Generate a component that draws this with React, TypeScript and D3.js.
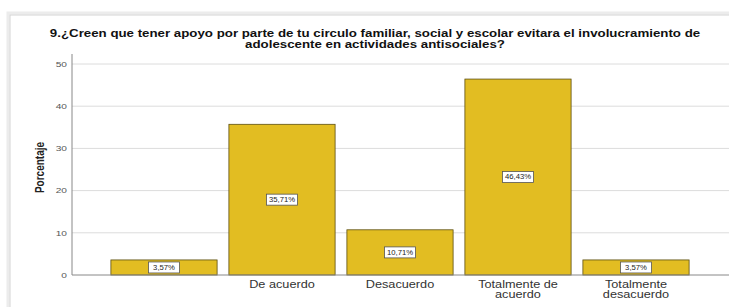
import { useEffect, useRef } from 'react'
import * as d3 from 'd3'

const categories = ['', 'De acuerdo', 'Desacuerdo', 'Totalmente de acuerdo', 'Totalmente desacuerdo']
const tickLines = [[''], ['De acuerdo'], ['Desacuerdo'], ['Totalmente de', 'acuerdo'], ['Totalmente', 'desacuerdo']]
const percentages = [3.57, 35.71, 10.71, 46.43, 3.57]
const yTicks = [0, 10, 20, 30, 40, 50]
const titleLines = [
  '9.¿Creen que tener apoyo por parte de tu circulo familiar, social y escolar evitara el involucramiento de',
  'adolescente en actividades antisociales?',
]

const W = 729
const H = 307
const font = '"Liberation Sans", Arial, sans-serif'
// the source picture is stretched horizontally
const SX = 1.27

export default function App() {
  const svgRef = useRef<SVGSVGElement>(null)

  useEffect(() => {
    if (!svgRef.current) return
    const svg = d3.select(svgRef.current)
    svg.selectAll('*').remove()

    const stretched = (x: number, y: number, sx = SX) =>
      svg.append('text').attr('transform', `translate(${x},${y}) scale(${sx},1)`)

    // frame with a soft shadow
    svg.append('rect')
      .attr('x', 8).attr('y', 13).attr('width', W).attr('height', H)
      .attr('fill', 'none').attr('stroke', '#ececec').attr('stroke-width', 3)
    svg.append('rect')
      .attr('x', 10).attr('y', 15).attr('width', W).attr('height', H)
      .attr('fill', '#fff').attr('stroke', '#d4d4d4').attr('stroke-width', 1)

    titleLines.forEach((t, i) => {
      stretched(375, 37 + i * 11, 1.33)
        .attr('text-anchor', 'middle')
        .style('font-family', font).style('font-size', '10px').style('font-weight', 'bold')
        .style('fill', '#111')
        .text(t)
    })

    const x0 = 72
    const x = d3.scaleBand<string>()
      .domain(categories)
      .range([105, 695])
      .paddingInner(0.1)
      .paddingOuter(0.05)

    const y = d3.scaleLinear().domain([0, 50]).range([275, 64])

    // gridlines
    svg.append('g')
      .selectAll('line')
      .data(yTicks.filter(d => d > 0))
      .join('line')
      .attr('x1', x0).attr('x2', W)
      .attr('y1', d => y(d)).attr('y2', d => y(d))
      .attr('stroke', '#dcdcdc').attr('stroke-width', 1)

    // tick labels
    yTicks.forEach(d => {
      stretched(67, y(d))
        .attr('dy', '0.35em')
        .attr('text-anchor', 'end')
        .style('font-family', font).style('font-size', '8px')
        .style('fill', '#555')
        .text(d)
    })

    svg.append('text')
      .attr('transform', `translate(44,${y(25) - 2}) rotate(-90) scale(1,${SX})`)
      .attr('text-anchor', 'middle')
      .style('font-family', font).style('font-size', '10px').style('font-weight', 'bold')
      .style('fill', '#222')
      .text('Porcentaje')

    // bars
    categories.forEach((c, i) => {
      const v = percentages[i]
      const bx = x(c) ?? 0
      svg.append('rect')
        .attr('x', bx).attr('y', y(v))
        .attr('width', x.bandwidth()).attr('height', y(0) - y(v))
        .attr('fill', '#E2BD22').attr('stroke', '#5c4f12').attr('stroke-width', 0.8)

      const label = v.toFixed(2).replace('.', ',') + '%'
      const cy = (y(v) + y(0)) / 2
      const cx = bx + x.bandwidth() / 2
      svg.append('rect')
        .attr('x', cx - 15.5).attr('y', cy - 5.5)
        .attr('width', 31).attr('height', 11)
        .attr('fill', '#fff').attr('stroke', '#555').attr('stroke-width', 0.8)
      stretched(cx, cy, 1.1)
        .attr('dy', '0.35em')
        .attr('text-anchor', 'middle')
        .style('font-family', font).style('font-size', '7px')
        .style('fill', '#222')
        .text(label)
    })

    // axes lines
    svg.append('line')
      .attr('x1', x0).attr('x2', x0).attr('y1', 54).attr('y2', y(0))
      .attr('stroke', '#888').attr('stroke-width', 1)
    svg.append('line')
      .attr('x1', x0).attr('x2', W).attr('y1', y(0)).attr('y2', y(0))
      .attr('stroke', '#888').attr('stroke-width', 1)

    // category labels
    categories.forEach((c, i) => {
      const cx = (x(c) ?? 0) + x.bandwidth() / 2
      tickLines[i].forEach((line, j) => {
        stretched(cx, 288 + j * 10)
          .attr('text-anchor', 'middle')
          .style('font-family', font).style('font-size', '10px')
          .style('fill', '#333')
          .text(line)
      })
    })
  }, [])

  return (
    <svg
      ref={svgRef}
      width={W}
      height={H}
      style={{ position: 'absolute', left: 0, top: 0, background: '#fff' }}
    />
  )
}
